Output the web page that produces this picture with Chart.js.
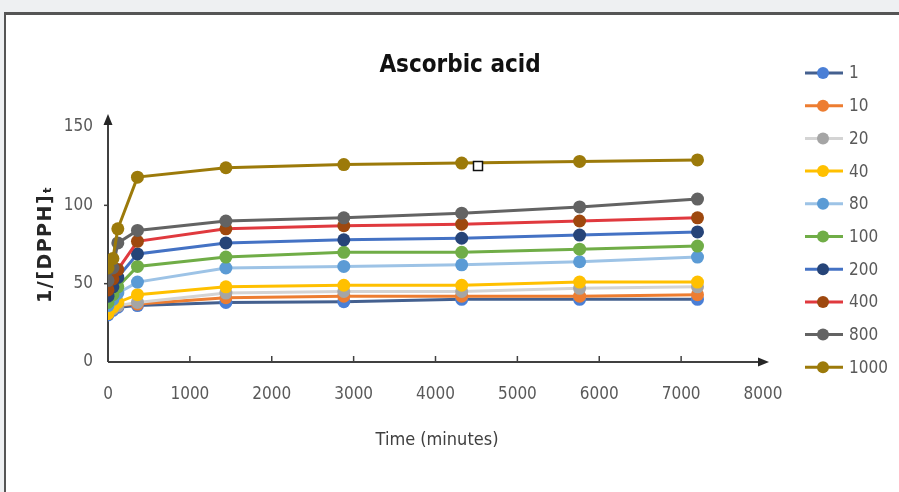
<!DOCTYPE html>
<html>
<head>
<meta charset="utf-8">
<script src="https://cdn.jsdelivr.net/npm/chart.js@4.4.1/dist/chart.umd.min.js"></script>
<style>
  html, body { margin: 0; padding: 0; background: #eef0f2; width: 899px; height: 492px; overflow: hidden; }
  #frame { position: absolute; left: 4px; top: 12px; width: 900px; height: 490px; background: #fff;
           border-top: 3px solid #555; border-left: 2px solid #555; }
  #wrap { position: absolute; left: 0; top: 0; width: 899px; height: 492px; }
</style>
</head>
<body>
<div id="frame"></div>
<div id="wrap"><canvas id="c" width="899" height="492"></canvas></div>
<script>
// ---- data ----
const chartTitle = "Ascorbic acid";
const xTitle = "Time (minutes)";
const yTitle = "1/[DPPH]ₜ";
const times = [0, 60, 120, 360, 1440, 2880, 4320, 5760, 7200];
const seriesLabels = ["1", "10", "20", "40", "80", "100", "200", "400", "800", "1000"];
const s1    = [30, 33, 35, 36, 38, 38.5, 40, 40, 40];
const s10   = [31, 34, 36, 37, 41, 42, 42, 42, 43];
const s20   = [32, 34, 36, 38, 44, 45, 45, 47, 48];
const s40   = [31, 35, 38, 43, 48, 49, 49, 51, 51];
const s80   = [36, 40, 44, 51, 60, 61, 62, 64, 67];
const s100  = [38, 43, 48, 61, 67, 70, 70, 72, 74];
const s200  = [42, 48, 54, 69, 76, 78, 79, 81, 83];
const s400  = [46, 53, 59, 77, 85, 87, 88, 90, 92];
const s800  = [52, 60, 76, 84, 90, 92, 95, 99, 104];
const s1000 = [60, 66, 85, 118, 124, 126, 127, 128, 129];
const xTicks = [0, 1000, 2000, 3000, 4000, 5000, 6000, 7000, 8000];
const yTicks = [0, 50, 100, 150];

const allSeries = [s1, s10, s20, s40, s80, s100, s200, s400, s800, s1000];
const lineColors   = ["#44608f", "#ed7d31", "#d4d4d4", "#ffc000", "#9dc3e6", "#70ad47", "#4472c4", "#e0393e", "#636363", "#9c7a0a"];
const markerColors = ["#4a7fd6", "#ed7d31", "#a5a5a5", "#ffc000", "#5b9bd5", "#70ad47", "#264478", "#9e480e", "#636363", "#9c7a0a"];

const NARROW = "'Liberation Sans Narrow', 'DejaVu Sans Condensed', 'Roboto Condensed', 'Arial Narrow', sans-serif";

const datasets = allSeries.map((vals, i) => ({
  label: seriesLabels[i],
  data: times.map((t, k) => ({ x: t, y: vals[k] })),
  borderColor: lineColors[i],
  backgroundColor: markerColors[i],
  pointBackgroundColor: markerColors[i],
  pointBorderColor: markerColors[i],
  pointRadius: 6.5,
  pointBorderWidth: 0,
  borderWidth: 3,
  tension: 0,
  order: allSeries.length - i
}));

const decor = {
  id: 'decor',
  beforeDatasetsDraw(chart) {
    const ctx = chart.ctx;
    const xs = chart.scales.x, ys = chart.scales.y;
    const x0 = xs.getPixelForValue(0), y0 = ys.getPixelForValue(0);
    ctx.save();
    ctx.strokeStyle = "#404040";
    ctx.fillStyle = "#262626";
    ctx.lineWidth = 2;
    const yTop = ys.getPixelForValue(150) - 4;
    ctx.beginPath(); ctx.moveTo(x0, y0); ctx.lineTo(x0, yTop); ctx.stroke();
    ctx.beginPath(); ctx.moveTo(x0, yTop - 9); ctx.lineTo(x0 - 4.5, yTop + 2); ctx.lineTo(x0 + 4.5, yTop + 2); ctx.closePath(); ctx.fill();
    const xEnd = xs.getPixelForValue(8000);
    ctx.beginPath(); ctx.moveTo(x0, y0); ctx.lineTo(xEnd, y0); ctx.stroke();
    ctx.beginPath(); ctx.moveTo(xEnd + 6, y0); ctx.lineTo(xEnd - 5, y0 - 4.5); ctx.lineTo(xEnd - 5, y0 + 4.5); ctx.closePath(); ctx.fill();
    ctx.lineWidth = 1.5;
    xTicks.forEach(v => { if (v > 0 && v < 8000) { const p = xs.getPixelForValue(v); ctx.beginPath(); ctx.moveTo(p, y0); ctx.lineTo(p, y0 - 6); ctx.stroke(); } });
    yTicks.forEach(v => { if (v > 0 && v < 150) { const p = ys.getPixelForValue(v); ctx.beginPath(); ctx.moveTo(x0, p); ctx.lineTo(x0 - 4, p); ctx.stroke(); } });
    ctx.restore();
  },
  afterDraw(chart) {
    const ctx = chart.ctx;
    ctx.save();
    ctx.fillStyle = "#111";
    ctx.font = "bold 24px " + NARROW;
    ctx.textAlign = "center"; ctx.textBaseline = "middle";
    ctx.fillText(chartTitle, 460, 66);
    ctx.fillStyle = "#404040";
    ctx.font = "18px " + NARROW;
    ctx.fillText(xTitle, 437, 440);
    ctx.save();
    ctx.translate(46, 244);
    ctx.rotate(-Math.PI / 2);
    ctx.fillStyle = "#262626";
    ctx.letterSpacing = "1.5px";
    ctx.font = "bold 19px 'DejaVu Sans', sans-serif";
    ctx.fillText(yTitle, 0, 0);
    ctx.restore();
    const ly0 = 73, lstep = 32.7;
    chart.data.datasets.forEach((ds, i) => {
      const y = ly0 + i * lstep;
      ctx.strokeStyle = ds.borderColor; ctx.lineWidth = 3;
      ctx.beginPath(); ctx.moveTo(805, y); ctx.lineTo(843, y); ctx.stroke();
      ctx.fillStyle = ds.pointBackgroundColor;
      ctx.beginPath(); ctx.arc(823, y, 6, 0, Math.PI * 2); ctx.fill();
      ctx.fillStyle = "#595959";
      ctx.font = "17px " + NARROW;
      ctx.textAlign = "left"; ctx.textBaseline = "middle";
      ctx.fillText(ds.label, 849, y + 1);
    });
    ctx.fillStyle = "#fff"; ctx.strokeStyle = "#111"; ctx.lineWidth = 1.5;
    ctx.fillRect(473.5, 161.5, 9, 9); ctx.strokeRect(473.5, 161.5, 9, 9);
    ctx.restore();
  }
};

new Chart(document.getElementById('c'), {
  type: 'line',
  data: { datasets },
  options: {
    responsive: false,
    animation: false,
    devicePixelRatio: 1,
    layout: { padding: { left: 0, right: 136, top: 127, bottom: 0 } },
    plugins: { legend: { display: false }, title: { display: false }, tooltip: { enabled: false } },
    scales: {
      x: {
        type: 'linear', min: 0, max: 8000,
        afterFit(s) { s.height = 130; },
        afterBuildTicks(s) { s.ticks = xTicks.map(v => ({ value: v })); },
        grid: { display: false, drawTicks: false },
        border: { display: false },
        ticks: { padding: 22, color: "#595959", font: { family: NARROW, size: 17 }, maxRotation: 0, callback: v => String(v) }
      },
      y: {
        min: 0, max: 150,
        afterFit(s) { s.width = 108; },
        afterBuildTicks(s) { s.ticks = yTicks.map(v => ({ value: v })); },
        grid: { display: false, drawTicks: false },
        border: { display: false },
        ticks: { padding: 15, color: "#595959", font: { family: NARROW, size: 17 }, callback: v => String(v) }
      }
    }
  },
  plugins: [decor]
});
</script>
</body>
</html>
